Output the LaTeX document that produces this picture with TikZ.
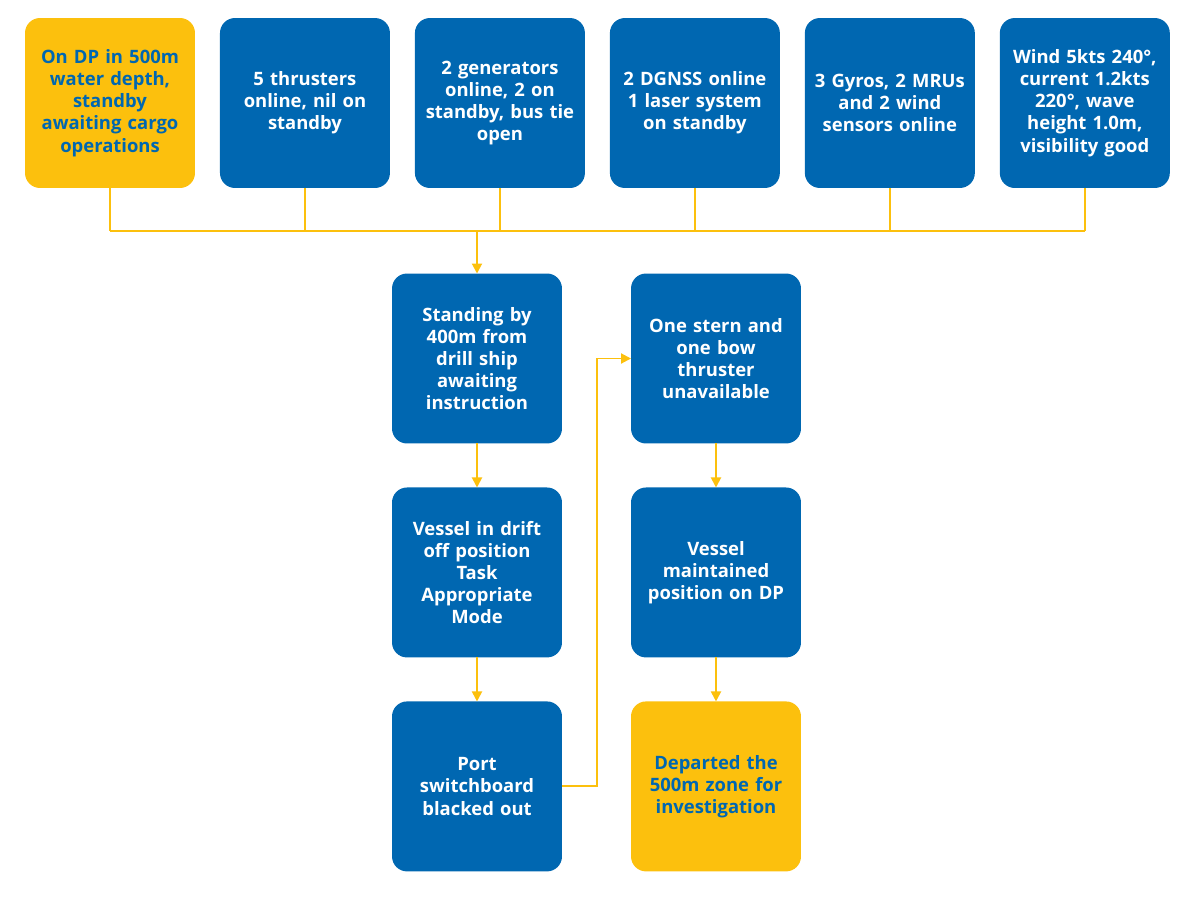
\documentclass[tikz,border=0pt]{standalone}
\usepackage{fontspec}
\setmainfont{Open Sans}
\usetikzlibrary{arrows.meta, positioning}
\definecolor{DPBlue}{HTML}{0067B1}
\definecolor{DPYellow}{HTML}{FCC00D}
\tikzset{
    % common line width for all connectors
    base_width/.style={line width=1.1pt},
    % square boxes with rounded corners
    standard_block/.style={
        rectangle,
        draw=none,
        outer sep=0pt,
        minimum width=3.4cm,
        minimum height=3.4cm,
        text width=3.1cm,
        align=center,
        font=\fontsize{10.5}{12.6}\selectfont\bfseries,
        rounded corners=0.3cm
    },
    blue_block/.style={
        standard_block,
        fill=DPBlue,
        text=white
    },
    yellow_block/.style={
        standard_block,
        fill=DPYellow,
        text=DPBlue
    },
    line/.style={
        draw=DPYellow,
        base_width
    },
    arrow/.style={
        -{Triangle[length=2mm, width=2mm]},
        draw=DPYellow,
        base_width
    }
}
\begin{document}
\begin{tikzpicture}[x=0.02cm, y=-0.02cm]
    \useasboundingbox (0,0) rectangle (1200,913);

    % --- TOP ROW ---
    \node[yellow_block] (setup) at (110,103) {On DP in 500m\\water depth,\\standby\\awaiting cargo\\operations};
    \node[blue_block, right=0.5cm of setup] (thrusters) {5 thrusters\\online, nil on\\standby};
    \node[blue_block, right=0.5cm of thrusters] (generators) {2 generators\\online, 2 on\\standby, bus tie\\open};
    \node[blue_block, right=0.5cm of generators] (reference) {2 DGNSS online\\1 laser system\\on standby};
    \node[blue_block, right=0.5cm of reference] (sensors) {3 Gyros, 2 MRUs\\and 2 wind\\sensors online};
    \node[blue_block, right=0.5cm of sensors] (weather) {Wind 5kts 240°,\\current 1.2kts\\220°, wave\\height 1.0m,\\visibility good};

    % --- LEFT COLUMN ---
    \node[blue_block] (standing) at (477,358.5) {Standing by\\400m from\\drill ship\\awaiting\\instruction};
    \node[blue_block, below=0.88cm of standing] (drift) {Vessel in drift\\off position\\Task\\Appropriate\\Mode};
    \node[blue_block, below=0.88cm of drift] (blackout) {Port\\switchboard\\blacked out};

    % --- RIGHT COLUMN ---
    \node[blue_block] (unavail) at (716,358.5) {One stern and\\one bow\\thruster\\unavailable};
    \node[blue_block, below=0.88cm of unavail] (maintained) {Vessel\\maintained\\position on DP};
    \node[yellow_block, below=0.88cm of maintained] (departed) {Departed the\\500m zone for\\investigation};

    % --- CONNECTIONS ---
    \coordinate (bus) at (0,231);

    % Status bus
    \foreach \n in {setup, thrusters, generators, reference, sensors, weather}
        \draw[line] (\n.south) -- (\n.south |- bus);
    \draw[line] (setup.south |- bus) -- (weather.south |- bus);
    \draw[arrow] (standing.north |- bus) -- (standing.north);

    % Left column
    \draw[arrow] (standing) -- (drift);
    \draw[arrow] (drift) -- (blackout);

    % Cross over
    \draw[arrow] (blackout.east) -- ++(35,0) |- (unavail.west);

    % Right column
    \draw[arrow] (unavail) -- (maintained);
    \draw[arrow] (maintained) -- (departed);

\end{tikzpicture}
\end{document}
